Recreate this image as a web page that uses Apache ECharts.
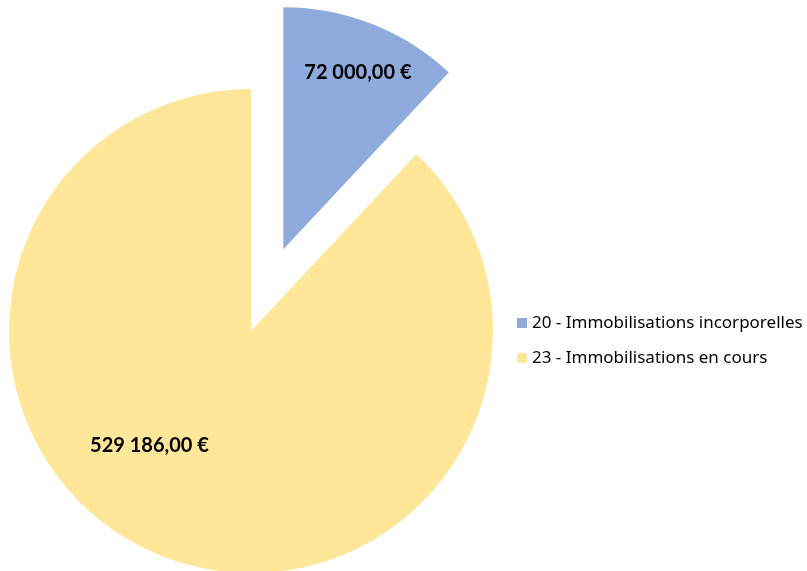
<!DOCTYPE html>
<html>
<head>
<meta charset="utf-8">
<script src="https://cdn.jsdelivr.net/npm/echarts@6/dist/echarts.min.js"></script>
<style>
  html, body { margin: 0; padding: 0; background: #fff; }
  #main { width: 807px; height: 571px; }
</style>
</head>
<body>
<div id="main"></div>
<script>
// comptes et montants
var categories = ['20 - Immobilisations incorporelles', '23 - Immobilisations en cours'];
var values = [72000, 529186];
var colors = ['#8faadc', '#ffe699'];

function fmtEuro(v) {
   var parts = v.toFixed(2).split('.');
   var ent = parts[0].replace(/\B(?=(\d{3})+(?!\d))/g, ' ');
   return ent + ',' + parts[1] + ' €';
}

var pieData = [];
for (var i = 0; i < categories.length; i++) {
   pieData.push({
      name: categories[i],
      value: values[i],
      selected: i === 0,
      itemStyle: { color: colors[i] }
   });
}

// decalage des etiquettes (comme dans Excel)
var labelShift = [[29, -61], [-56, -1]];

var oPie = echarts.init(document.getElementById('main'));
var opt = {
   animation: false,
   legend: {
      orient: 'vertical',
      left: 512,
      top: 308,
      itemWidth: 10,
      itemHeight: 10,
      itemGap: 15,
      icon: 'rect',
      selectedMode: false,
      textStyle: {
         fontFamily: 'Noto Sans',
         fontSize: 17,
         lineHeight: 20,
         color: '#000',
         padding: [0, 0, 0, 0]
      },
      data: categories
   },
   series: [{
      type: 'pie',
      center: [251, 331],
      radius: [0, 242],
      startAngle: 90,
      clockwise: true,
      selectedMode: 'single',
      selectedOffset: 88,
      avoidLabelOverlap: false,
      label: {
         show: true,
         position: 'inside',
         formatter: function (p) { return fmtEuro(p.value); },
         fontFamily: 'Lato',
         fontWeight: 'bold',
         fontSize: 20,
         color: '#000'
      },
      labelLine: { show: false },
      labelLayout: function (params) {
         var s = labelShift[params.dataIndex];
         return { dx: s[0], dy: s[1] };
      },
      emphasis: { disabled: true },
      data: pieData
   }]
};
oPie.setOption(opt);
</script>
</body>
</html>
